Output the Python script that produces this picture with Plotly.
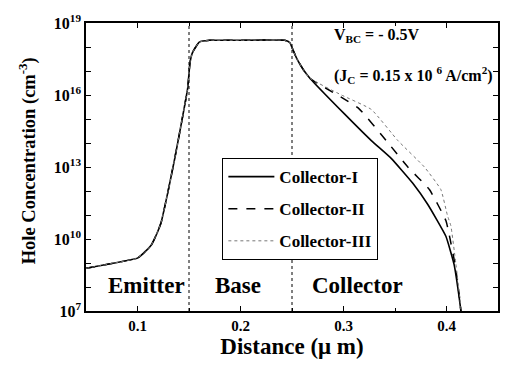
import plotly.graph_objects as go

# Shared profile (emitter -> base -> start of collector), x in um, holes in cm^-3
x_common = [0.050, 0.075, 0.100, 0.106, 0.1134, 0.118, 0.123, 0.1294, 0.1358, 0.1406, 0.1487, 0.151,
            0.1535, 0.160, 0.170, 0.200, 0.243, 0.248, 0.250, 0.2548, 0.2612, 0.2676]
p_common = [6.0e8, 9.5e8, 1.6e9, 2.6e9, 5.6e9, 1.4e10, 5.0e10, 8.5e11, 1.9e13, 2.3e14, 1.9e16, 2.3e17,
            6.0e17, 1.6e18, 1.9e18, 1.9e18, 1.9e18, 1.5e18, 9.5e17, 3.2e17, 1.1e17, 4.9e16]

# Collector tails
x_col1 = [0.3014, 0.327, 0.3463, 0.3673, 0.3817, 0.3994, 0.4074, 0.4123, 0.4140]
p_col1 = [1.55e15, 1.26e14, 2.3e13, 2.1e12, 2.8e11, 1.3e10, 8.5e8, 3.7e7, 1.0e7]

x_col2 = [0.3142, 0.3415, 0.3624, 0.3834, 0.3994, 0.4027, 0.4085, 0.4125, 0.4140]
p_col2 = [2.9e15, 1.26e14, 1.0e13, 1.15e12, 5.9e10, 1.45e10, 7.9e8, 4.0e7, 1.0e7]

x_col3 = [0.298, 0.327, 0.3528, 0.3785, 0.3945, 0.401, 0.4042, 0.409, 0.4128, 0.4142]
p_col3 = [1.0e16, 2.5e15, 1.26e14, 1.0e13, 1.15e12, 9.3e10, 3.6e10, 1.0e9, 4.0e7, 1.0e7]

series_names = ["Collector-I", "Collector-II", "Collector-III"]
region_labels = ["Emitter", "Base", "Collector"]
region_x = [0.1085, 0.1975, 0.3135]
boundaries = [0.15, 0.25]

x_ticks = [0.1, 0.2, 0.3, 0.4]
x_minor = [0.05, 0.15, 0.25, 0.35, 0.45]
y_label_exps = [7, 10, 13, 16, 19]
y_minor_exps = [8, 9, 11, 12, 14, 15, 17, 18]

FONT = "Liberation Serif"

fig = go.Figure()
tails = [(x_col1, p_col1), (x_col2, p_col2), (x_col3, p_col3)]
styles = [dict(color="black", width=1.6, dash="solid"),
          dict(color="black", width=1.5, dash="dash"),
          dict(color="#777777", width=1.0, dash="dot")]
for i, ((xt, pt), name, st) in enumerate(zip(tails, series_names, styles)):
    fig.add_trace(go.Scatter(
        x=x_common + xt, y=p_common + pt, mode="lines", name=name,
        line=st, legendgroup=name, line_shape="spline", line_smoothing=0.4,
    ))

for b in boundaries:
    fig.add_shape(type="line", xref="x", yref="paper", x0=b, x1=b, y0=0, y1=1,
                  line=dict(color="black", width=1, dash="dot"))

for lab, xv in zip(region_labels, region_x):
    fig.add_annotation(x=xv, xref="x", y=0.088, yref="paper", yanchor="middle", xanchor="center",
                       text="<b>%s</b>" % lab, showarrow=False,
                       font=dict(family=FONT, size=23, color="black"))

fig.add_annotation(x=0.598, xref="paper", y=0.955, yref="paper", xanchor="left", yanchor="middle",
                   text="<b>V<sub>BC</sub> = - 0.5V</b>", showarrow=False,
                   font=dict(family=FONT, size=16, color="black"))
fig.add_annotation(x=0.598, xref="paper", y=0.82, yref="paper", xanchor="left", yanchor="middle",
                   text="<b>(J<sub>C</sub> = 0.15 x 10 <sup>6</sup> A/cm<sup>2</sup>)</b>",
                   showarrow=False, font=dict(family=FONT, size=16, color="black"))

fig.add_annotation(x=-0.143, xref="paper", y=0.52, yref="paper", textangle=-90,
                   xanchor="center", yanchor="middle",
                   text="<b>Hole Concentration (cm<sup>-3</sup>)</b>", showarrow=False,
                   font=dict(family=FONT, size=18.5, color="black"))

fig.update_layout(
    width=512, height=366,
    margin=dict(l=86, r=12, t=20, b=52),
    paper_bgcolor="white", plot_bgcolor="white",
    font=dict(family=FONT, color="black"),
    showlegend=True,
    legend=dict(x=0.331, y=0.531, xanchor="left", yanchor="top",
                bordercolor="black", borderwidth=1, bgcolor="white",
                font=dict(family=FONT, size=17, color="black", weight="bold"),
                tracegroupgap=7, traceorder="grouped", itemwidth=46),
)

fig.update_xaxes(
    range=[0.05, 0.45], showgrid=False, zeroline=False,
    showline=True, linecolor="black", linewidth=1.5, mirror="allticks",
    ticks="inside", ticklen=5, tickcolor="black",
    tickvals=x_ticks, ticktext=["<b>%.1f</b>" % v for v in x_ticks],
    tickfont=dict(family=FONT, size=15, color="black"),
    minor=dict(tickvals=x_minor, ticks="inside", ticklen=3, tickcolor="black"),
    title=dict(text="<b>Distance (\u03bc m)</b>", font=dict(family=FONT, size=23, color="black"),
               standoff=4),
)
fig.update_yaxes(
    type="log", range=[7, 19], showgrid=False, zeroline=False,
    showline=True, linecolor="black", linewidth=1.5, mirror="allticks",
    ticks="inside", ticklen=5, tickcolor="black",
    tickvals=[10.0 ** e for e in y_label_exps],
    ticktext=["<b>10<sup>%d</sup></b>" % e for e in y_label_exps],
    tickfont=dict(family=FONT, size=16, color="black"),
    minor=dict(tickvals=[10.0 ** e for e in y_minor_exps], ticks="inside", ticklen=5,
               tickcolor="black"),
)

fig.write_html("out.html")
